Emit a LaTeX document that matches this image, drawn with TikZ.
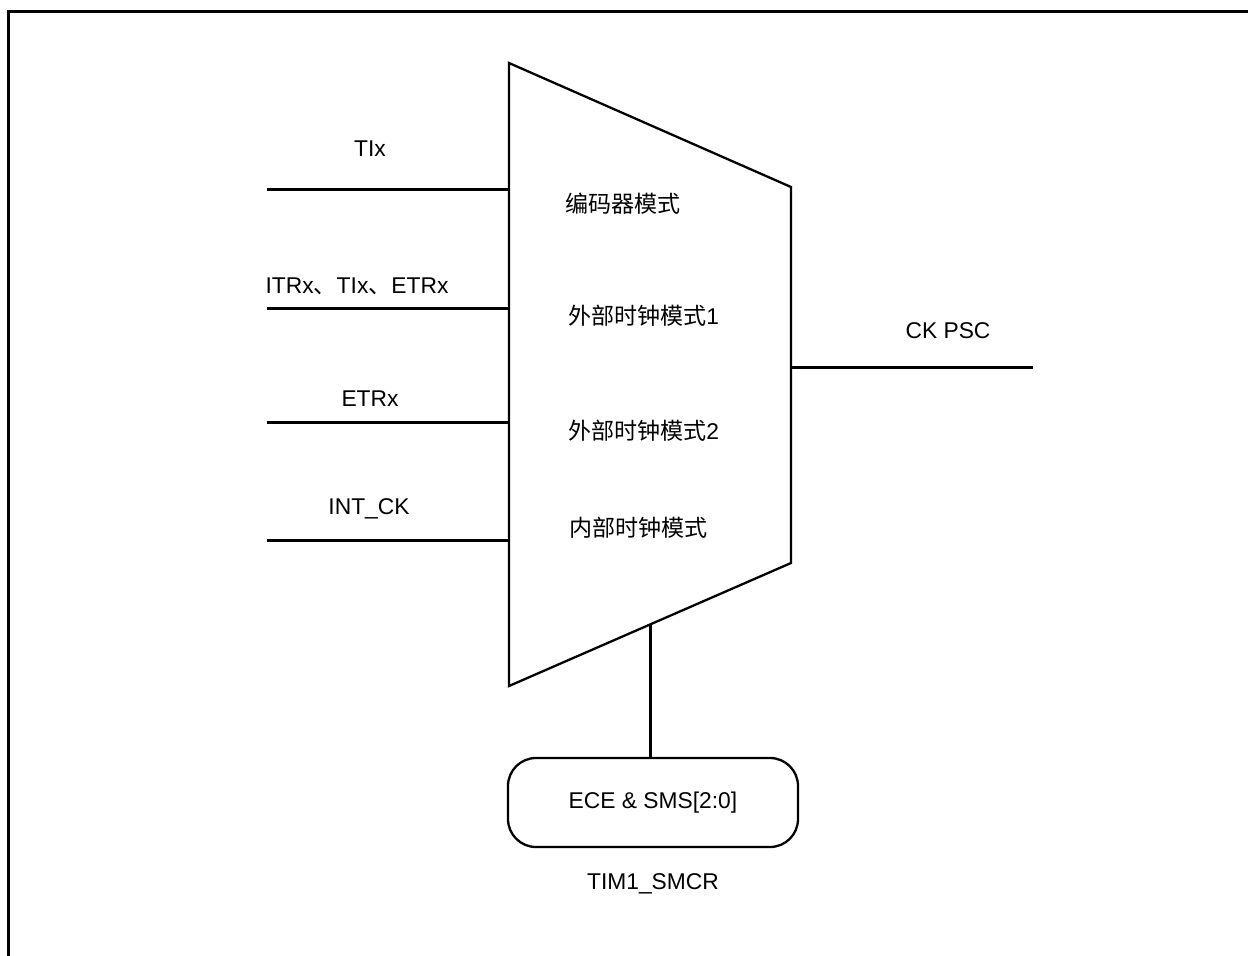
\documentclass[tikz,border=0pt]{standalone}
\usepackage{fontspec}
\setmainfont{Liberation Sans}
\newfontfamily\cjk{Noto Sans CJK SC}[Scale=1.01]
\begin{document}
\begin{tikzpicture}[x=1pt,y=-1pt,
  lab/.style={inner sep=0pt, font=\fontsize{22.8}{27}\selectfont},
  wire/.style={line width=3pt},
  shapeln/.style={line width=2.3pt, line join=miter},
]
\useasboundingbox (0,0) rectangle (1248,956);
% frame (cut at right and bottom)
\draw[line width=3pt] (8,970) -- (8,11) -- (1260,11);
% trapezoid mux
\coordinate (tl) at (509,63);
\coordinate (tr) at (791,187);
\coordinate (br) at (791,563);
\coordinate (bl) at (509,686);
\draw[shapeln] (tl) -- (tr) -- (br) -- (bl) -- cycle;
% inputs
\coordinate (i1s) at (267,189); \coordinate (i1e) at (509,189);
\coordinate (i2s) at (267,308); \coordinate (i2e) at (509,308);
\coordinate (i3s) at (267,422); \coordinate (i3e) at (509,422);
\coordinate (i4s) at (267,540); \coordinate (i4e) at (509,540);
\draw[wire] (i1s) -- (i1e);
\draw[wire] (i2s) -- (i2e);
\draw[wire] (i3s) -- (i3e);
\draw[wire] (i4s) -- (i4e);
\node[lab] (l1) at (370,149) {TIx};
\node[lab] (l2) at (357,286) {ITRx{\cjk 、}TIx{\cjk 、}ETRx};
\node[lab] (l3) at (370,399) {ETRx};
\node[lab] (l4) at (369,509) {INT\_CK};
% mode labels
\node[lab, anchor=west] (m1) at (565,204) {\cjk 编码器模式};
\node[lab, anchor=west] (m2) at (568,316) {{\cjk 外部时钟模式}1};
\node[lab, anchor=west] (m3) at (568,431) {{\cjk 外部时钟模式}2};
\node[lab, anchor=west] (m4) at (569,528) {\cjk 内部时钟模式};
% output
\coordinate (os) at (791,367); \coordinate (oe) at (1033,367);
\draw[wire] (os) -- (oe);
\node[lab] (out) at (948,331) {CK PSC};
% control
\node[draw, shapeln, rounded corners=28pt, minimum width=290pt, minimum height=89pt,
      lab] (ctl) at (653,802.5) {ECE \& SMS[2:0]};
\coordinate (cb) at (650,624);
\draw[wire] (cb) -- (cb |- ctl.north);
\node[lab] (reg) at (653,884) {TIM1\_SMCR};
\end{tikzpicture}
\end{document}
